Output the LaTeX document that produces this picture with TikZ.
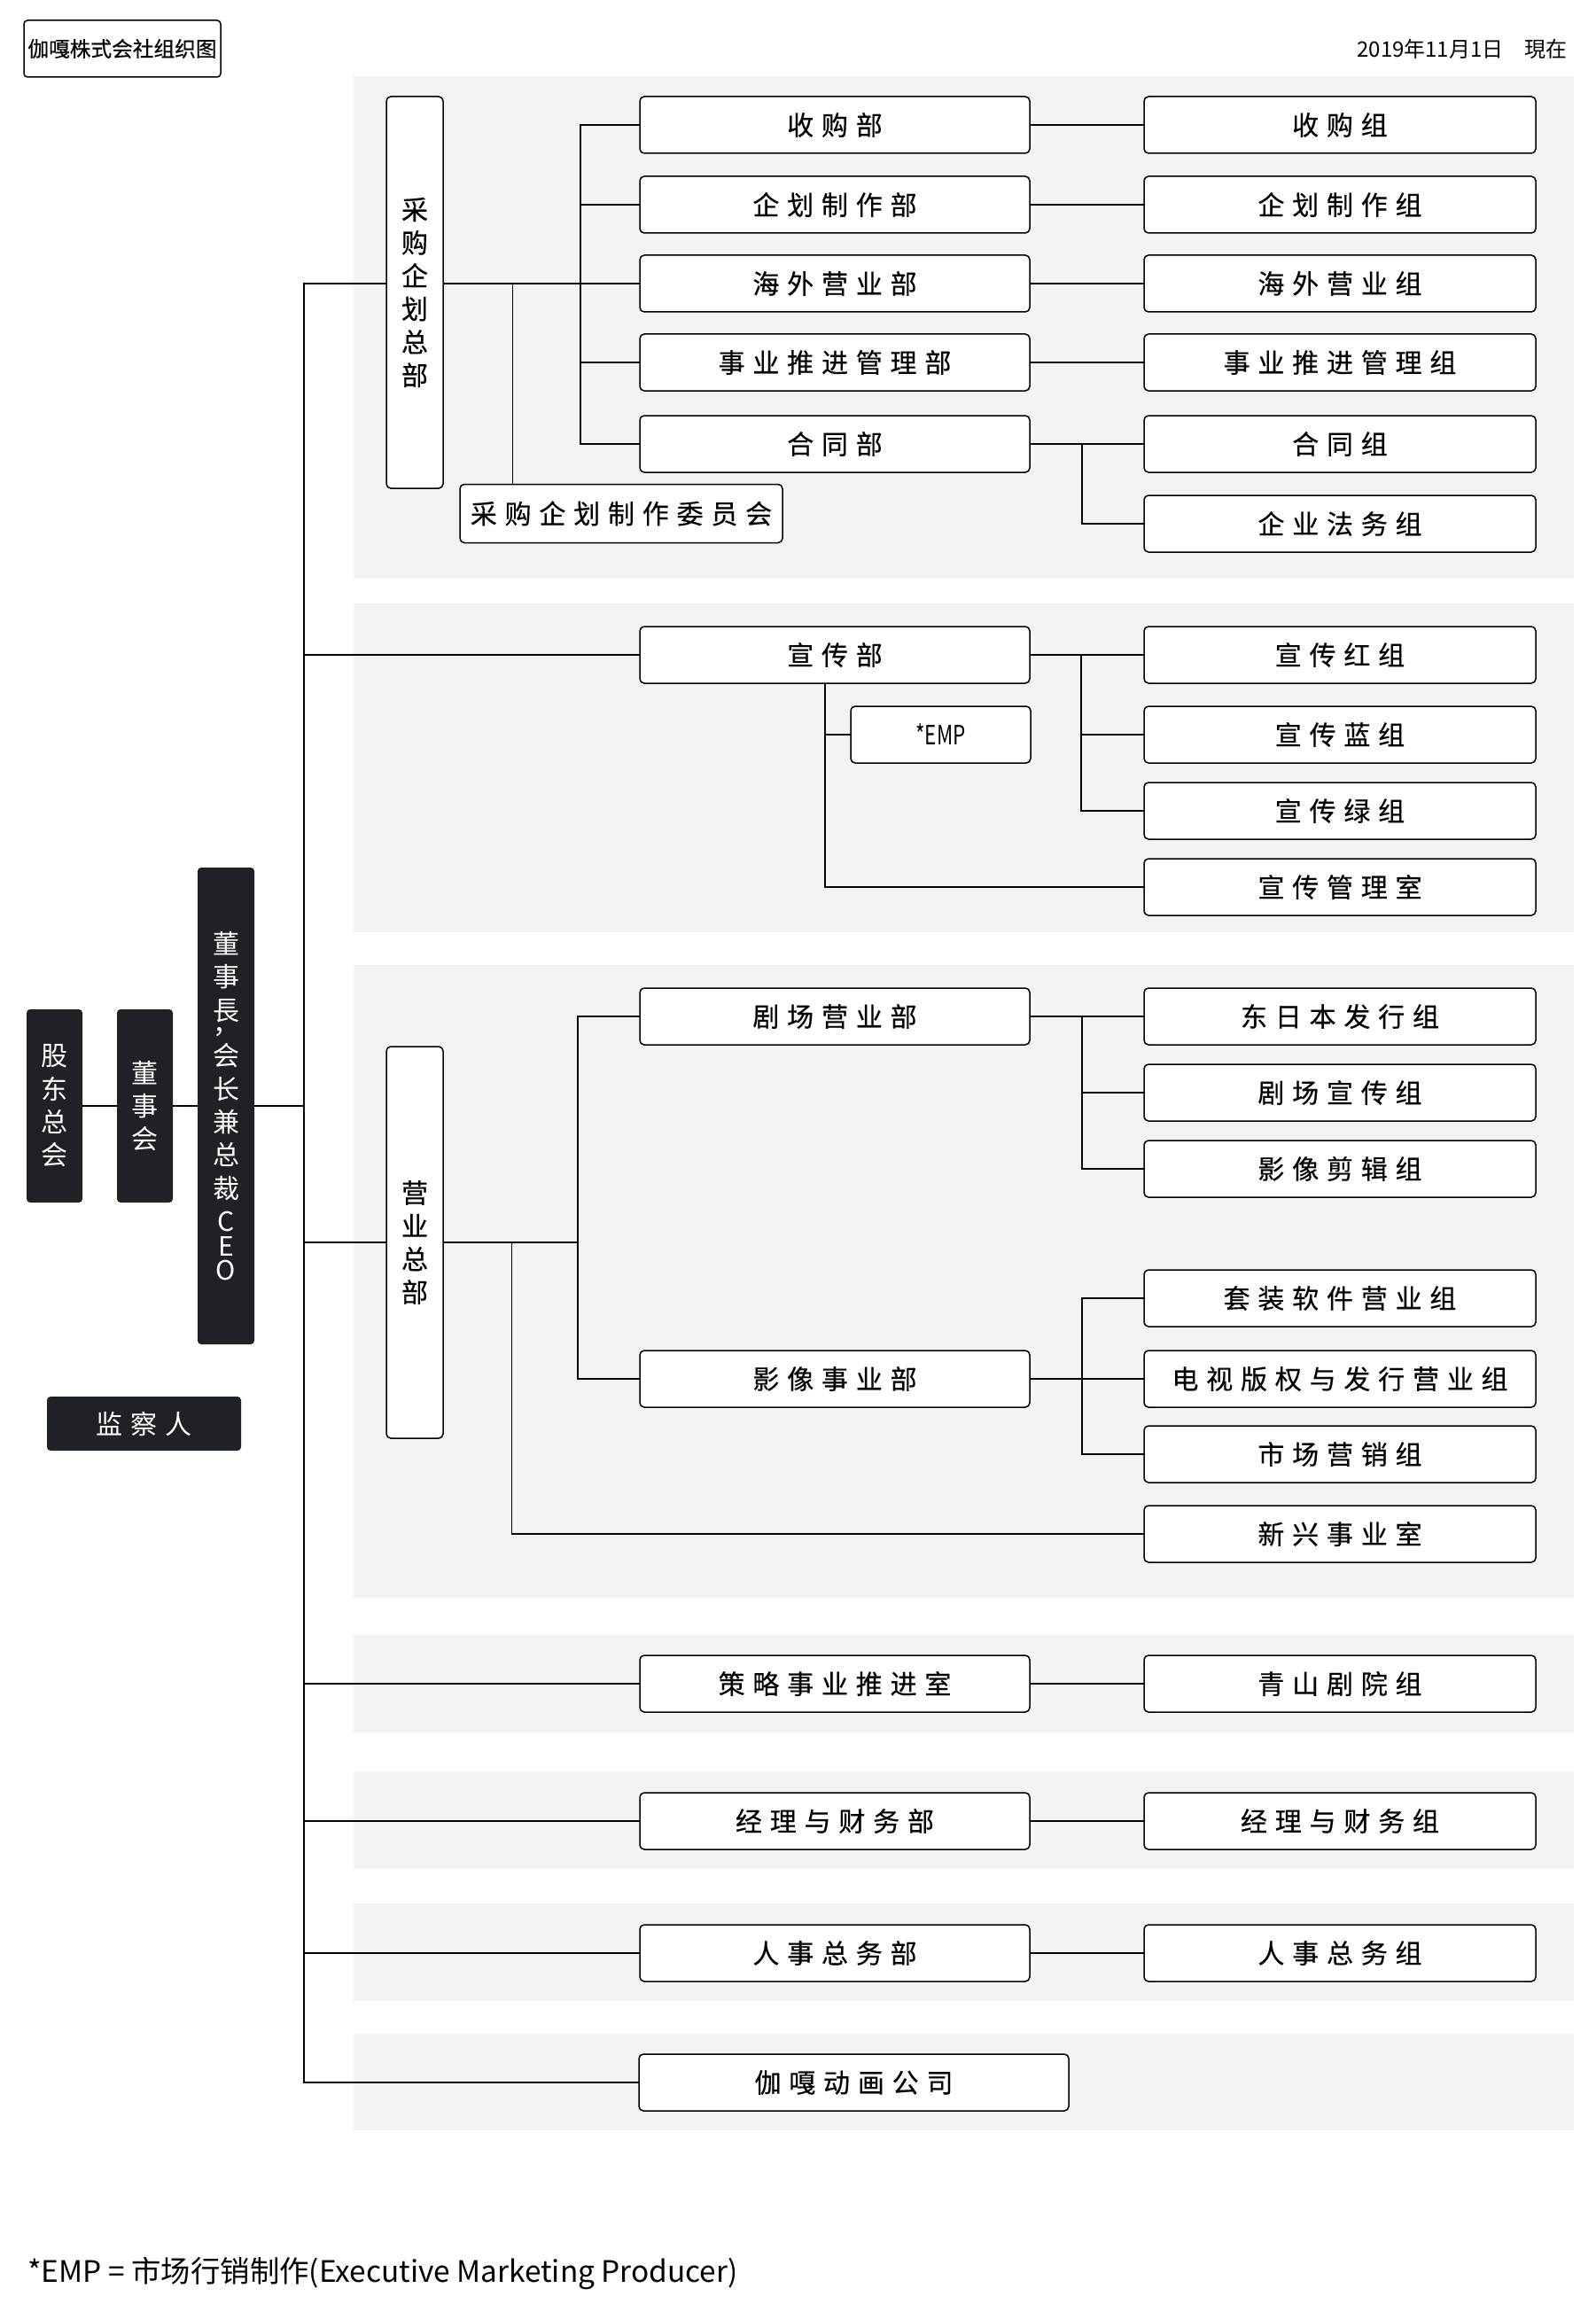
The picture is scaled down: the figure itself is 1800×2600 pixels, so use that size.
\documentclass[tikz,border=0pt]{standalone}
\usepackage{fontspec}
\setmainfont{Noto Sans CJK SC}
\newfontfamily\boxfont[FakeBold=0.4]{Noto Sans CJK SC}
\newfontfamily\narrowfont[FakeStretch=0.75]{Noto Sans CJK SC}
\definecolor{bandgray}{RGB}{243,243,243}
\definecolor{darkbox}{RGB}{30,33,37}
\makeatletter
\def\spc#1{\spc@first#1\relax}
\def\spc@first#1{#1\spc@rest}
\def\spc@rest#1{\ifx\relax#1\else\kern4.4pt#1\expandafter\spc@rest\fi}
\makeatother
\tikzset{
  box/.style={draw, line width=0.75pt, rounded corners=2.5pt, fill=white, inner sep=0pt,
    minimum height=32pt, text=black, font=\boxfont\fontsize{15pt}{18.7pt}\selectfont, align=center},
  dept/.style={box, minimum width=220pt},
  grp/.style={box, minimum width=221pt},
  vbox/.style={box, minimum width=32pt, minimum height=221pt},
  dark/.style={fill=darkbox, rounded corners=2pt, text=white, inner sep=0pt, draw=none,
    font=\fontsize{15pt}{18.7pt}\selectfont, align=center},
  conn/.style={line width=0.75pt, line cap=rect},
  thinconn/.style={line width=0.5pt},
  band/.style={fill=bandgray}
}
\begin{document}
\begin{tikzpicture}[x=0.5pt,y=-0.5pt]
\useasboundingbox (0,0) rectangle (1800,2600);
\fill[white] (0,0) rectangle (1800,2600);
% bands
\fill[band] (399,86) rectangle (1776,653);
\fill[band] (399,681) rectangle (1776,1052);
\fill[band] (399,1089) rectangle (1776,1803);
\fill[band] (399,1845) rectangle (1776,1955);
\fill[band] (399,1999) rectangle (1776,2109);
\fill[band] (399,2148) rectangle (1776,2258);
\fill[band] (399,2295) rectangle (1776,2404);

% header
\node[box, minimum width=111pt, minimum height=32pt, rounded corners=2pt,
  font=\boxfont\fontsize{11.85pt}{14pt}\selectfont] (title) at (138,55) {伽嘎株式会社组织图};
\node[anchor=east, inner sep=0pt, font=\fontsize{12pt}{14pt}\selectfont] (date) at (1769,55) {2019年11月1日　現在};

% left column
\node[dark, minimum width=31.5pt, minimum height=109pt] (gm) at (61.5,1248) {股\\东\\总\\会};
\node[dark, minimum width=31.5pt, minimum height=109pt] (board) at (163.5,1248) {董\\事\\会};
\node[dark, minimum width=32pt, minimum height=269pt] (ceo) at (255,1248)
  {董\\事\\\rlap{\smash{\raisebox{-7.5pt}{，}}}長\\[7pt]会\\长\\兼\\总\\裁\\C\\[-5pt]E\\[-5pt]O};
\node[dark, minimum width=109.5pt, minimum height=30.5pt] (audit) at (162.5,1606.5) {\spc{监察人}};

% band 1
\node[vbox] (hq1) at (468,330) {采\\购\\企\\划\\总\\部};
\node[dept] (d1) at (942,141) {\spc{收购部}};
\node[dept] (d2) at (942,231) {\spc{企划制作部}};
\node[dept] (d3) at (942,320) {\spc{海外营业部}};
\node[dept] (d4) at (942,409) {\spc{事业推进管理部}};
\node[dept] (d5) at (942,501) {\spc{合同部}};
\node[box, minimum width=182pt, minimum height=33pt] (com) at (701,579.5) {\spc{采购企划制作委员会}};
\node[grp] (g1) at (1512,141) {\spc{收购组}};
\node[grp] (g2) at (1512,231) {\spc{企划制作组}};
\node[grp] (g3) at (1512,320) {\spc{海外营业组}};
\node[grp] (g4) at (1512,409) {\spc{事业推进管理组}};
\node[grp] (g5) at (1512,501) {\spc{合同组}};
\node[grp] (g6) at (1512,591) {\spc{企业法务组}};

% band 2
\node[dept] (d6) at (942,739) {\spc{宣传部}};
\node[box, minimum width=101.5pt, font=\narrowfont\fontsize{15pt}{18pt}\selectfont] (emp) at (1061.5,829) {*EMP};
\node[grp] (g7) at (1512,739) {\spc{宣传红组}};
\node[grp] (g8) at (1512,829) {\spc{宣传蓝组}};
\node[grp] (g9) at (1512,915) {\spc{宣传绿组}};
\node[grp] (g10) at (1512,1001) {\spc{宣传管理室}};

% band 3
\node[vbox] (hq2) at (468,1402) {营\\业\\总\\部};
\node[dept] (d7) at (942,1147) {\spc{剧场营业部}};
\node[dept] (d8) at (942,1556) {\spc{影像事业部}};
\node[grp] (g11) at (1512,1147) {\spc{东日本发行组}};
\node[grp] (g12) at (1512,1233) {\spc{剧场宣传组}};
\node[grp] (g13) at (1512,1319) {\spc{影像剪辑组}};
\node[grp] (g14) at (1512,1465) {\spc{套装软件营业组}};
\node[grp] (g15) at (1512,1556) {\spc{电视版权与发行营业组}};
\node[grp] (g16) at (1512,1641) {\spc{市场营销组}};
\node[grp] (g17) at (1512,1731) {\spc{新兴事业室}};

% bands 4-7
\node[dept] (d9) at (942,1900) {\spc{策略事业推进室}};
\node[grp] (g18) at (1512,1900) {\spc{青山剧院组}};
\node[dept] (d10) at (942,2055) {\spc{经理与财务部}};
\node[grp] (g19) at (1512,2055) {\spc{经理与财务组}};
\node[dept] (d11) at (942,2204) {\spc{人事总务部}};
\node[grp] (g20) at (1512,2204) {\spc{人事总务组}};
\node[box, minimum width=242.5pt] (d12) at (963.5,2350) {\spc{伽嘎动画公司}};

% footnote
\node[anchor=west, inner sep=0pt, font=\fontsize{16.7pt}{19pt}\selectfont] (note) at (31,2565)
  {*EMP = 市场行销制作(Executive Marketing Producer)};

% bus coordinates
\coordinate (T) at (343,0);
\coordinate (B1) at (655,0);
\coordinate (C1) at (578,0);
\coordinate (G1) at (1221,0);
\coordinate (E2) at (931,0);
\coordinate (G2) at (1220,0);
\coordinate (B3) at (652,0);
\coordinate (C3) at (577.5,0);
\coordinate (G3) at (1221,0);

% left chain
\draw[conn] (gm.east) -- (board.west);
\draw[conn] (board.east) -- (ceo.west);
\draw[conn] (ceo.east) -- (T |- ceo.east);
% trunk
\draw[conn] (T |- d3.west) -- (T |- d12.west);

% band 1
\draw[conn] (T |- d3.west) -- (hq1.west |- d3.west);
\draw[conn] (hq1.east |- d3.west) -- (d3.west);
\draw[conn] (B1 |- d1.west) -- (B1 |- d5.west);
\draw[conn] (B1 |- d1.west) -- (d1.west);
\draw[conn] (B1 |- d2.west) -- (d2.west);
\draw[conn] (B1 |- d4.west) -- (d4.west);
\draw[conn] (B1 |- d5.west) -- (d5.west);
\draw[thinconn] (C1 |- d3.west) -- (C1 |- com.north);
\draw[conn] (d1.east) -- (g1.west);
\draw[conn] (d2.east) -- (g2.west);
\draw[conn] (d3.east) -- (g3.west);
\draw[conn] (d4.east) -- (g4.west);
\draw[conn] (d5.east) -- (g5.west);
\draw[conn] (G1 |- d5.east) -- (G1 |- g6.west) -- (g6.west);

% band 2
\draw[conn] (T |- d6.west) -- (d6.west);
\draw[conn] (d6.east) -- (g7.west);
\draw[conn] (G2 |- g7.west) -- (G2 |- g9.west);
\draw[conn] (G2 |- g8.west) -- (g8.west);
\draw[conn] (G2 |- g9.west) -- (g9.west);
\draw[conn] (E2 |- d6.south) -- (E2 |- g10.west) -- (g10.west);
\draw[conn] (E2 |- emp.west) -- (emp.west);

% band 3
\draw[conn] (T |- hq2.west) -- (hq2.west);
\draw[conn] (hq2.east) -- (B3 |- hq2.east);
\draw[conn] (B3 |- d7.west) -- (B3 |- d8.west);
\draw[conn] (B3 |- d7.west) -- (d7.west);
\draw[conn] (B3 |- d8.west) -- (d8.west);
\draw[conn] (C3 |- hq2.east) -- (C3 |- g17.west) -- (g17.west);
\draw[conn] (d7.east) -- (g11.west);
\draw[conn] (G3 |- g11.west) -- (G3 |- g13.west);
\draw[conn] (G3 |- g12.west) -- (g12.west);
\draw[conn] (G3 |- g13.west) -- (g13.west);
\draw[conn] (d8.east) -- (g15.west);
\draw[conn] (G3 |- g14.west) -- (G3 |- g16.west);
\draw[conn] (G3 |- g14.west) -- (g14.west);
\draw[conn] (G3 |- g16.west) -- (g16.west);

% bands 4-7
\draw[conn] (T |- d9.west) -- (d9.west);
\draw[conn] (d9.east) -- (g18.west);
\draw[conn] (T |- d10.west) -- (d10.west);
\draw[conn] (d10.east) -- (g19.west);
\draw[conn] (T |- d11.west) -- (d11.west);
\draw[conn] (d11.east) -- (g20.west);
\draw[conn] (T |- d12.west) -- (d12.west);
\end{tikzpicture}
\end{document}
